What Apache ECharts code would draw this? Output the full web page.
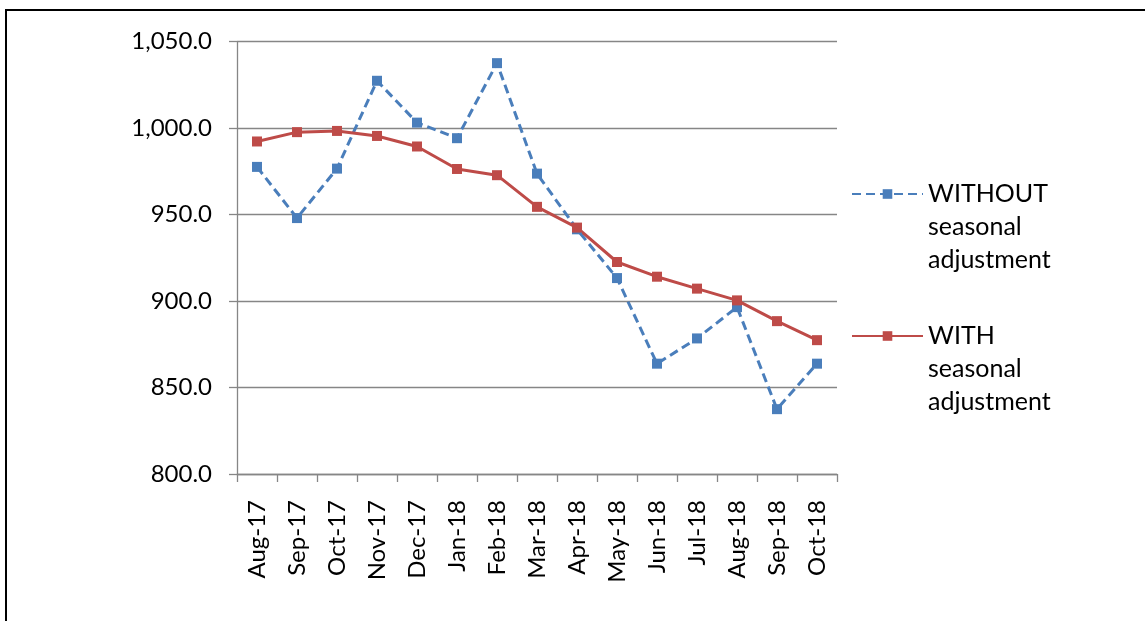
<!DOCTYPE html>
<html>
<head>
<meta charset="utf-8">
<script src="https://cdn.jsdelivr.net/npm/echarts@6/dist/echarts.min.js"></script>
<style>
html,body{margin:0;padding:0;background:#fff;}
#chart{position:absolute;left:0;top:0;width:1145px;height:621px;}
#frame{position:absolute;left:5px;top:9px;width:1150px;height:620px;border-top:2px solid #000;border-left:2px solid #000;pointer-events:none;}
</style>
</head>
<body>
<div id="chart"></div>
<div id="frame"></div>
<script>
const categories = ['Aug-17','Sep-17','Oct-17','Nov-17','Dec-17','Jan-18','Feb-18','Mar-18','Apr-18','May-18','Jun-18','Jul-18','Aug-18','Sep-18','Oct-18'];
const withoutAdj = [977.6, 948.0, 976.6, 1027.4, 1003.2, 994.2, 1037.6, 973.7, 941.5, 913.3, 863.8, 878.4, 896.5, 837.5, 863.8];
const withAdj = [992.3, 997.7, 998.4, 995.5, 989.4, 976.4, 972.8, 954.5, 942.5, 922.6, 914.1, 907.2, 900.4, 888.4, 877.4];
const yTicks = { min: 800, max: 1050, interval: 50 };
const nameWithout = 'WITHOUT seasonal adjustment';
const nameWith = 'WITH seasonal adjustment';

const FONT = 'Lato';
const chart = echarts.init(document.getElementById('chart'));
const legendText = { fontFamily: FONT, fontSize: 25, color: '#000', lineHeight: 33 };
const legendFmt = n => '\n\n' + n.replace(' seasonal ', '\nseasonal\n');
chart.setOption({
  animation: false,
  grid: { left: 237, right: 308, top: 41.7, bottom: 147, containLabel: false },
  legend: [
    { data: [nameWithout], orient: 'vertical', left: 851, top: 111.5, padding: 0,
      itemWidth: 71, itemHeight: 12, textStyle: legendText, formatter: legendFmt },
    { data: [nameWith], orient: 'vertical', left: 851, top: 253.5, padding: 0,
      itemWidth: 71, itemHeight: 12, textStyle: legendText, formatter: legendFmt }
  ],
  xAxis: {
    type: 'category', data: categories, boundaryGap: true,
    axisLine: { lineStyle: { color: '#868686', width: 1.3 } },
    axisTick: { show: true, length: 8, inside: false, lineStyle: { color: '#868686', width: 1.3 } },
    axisLabel: { rotate: 90, margin: 26, fontFamily: FONT, fontSize: 24, color: '#000', interval: 0 }
  },
  yAxis: {
    type: 'value', min: yTicks.min, max: yTicks.max, interval: yTicks.interval,
    axisLine: { show: true, lineStyle: { color: '#868686', width: 1.3 } },
    axisTick: { show: true, length: 8, lineStyle: { color: '#868686', width: 1.3 } },
    splitLine: { lineStyle: { color: '#868686', width: 1.3 } },
    axisLabel: { margin: 25, fontFamily: FONT, fontSize: 24, color: '#000',
      formatter: v => v.toLocaleString('en-US', { minimumFractionDigits: 1, maximumFractionDigits: 1 }) }
  },
  series: [
    { name: nameWithout, type: 'line', data: withoutAdj, symbol: 'rect', symbolSize: 10,
      itemStyle: { color: '#4A7EBB' },
      lineStyle: { color: '#4A7EBB', width: 3, type: [9, 5] } },
    { name: nameWith, type: 'line', data: withAdj, symbol: 'rect', symbolSize: 10,
      itemStyle: { color: '#BE4B48' },
      lineStyle: { color: '#BE4B48', width: 3 } }
  ]
});
</script>
</body>
</html>
